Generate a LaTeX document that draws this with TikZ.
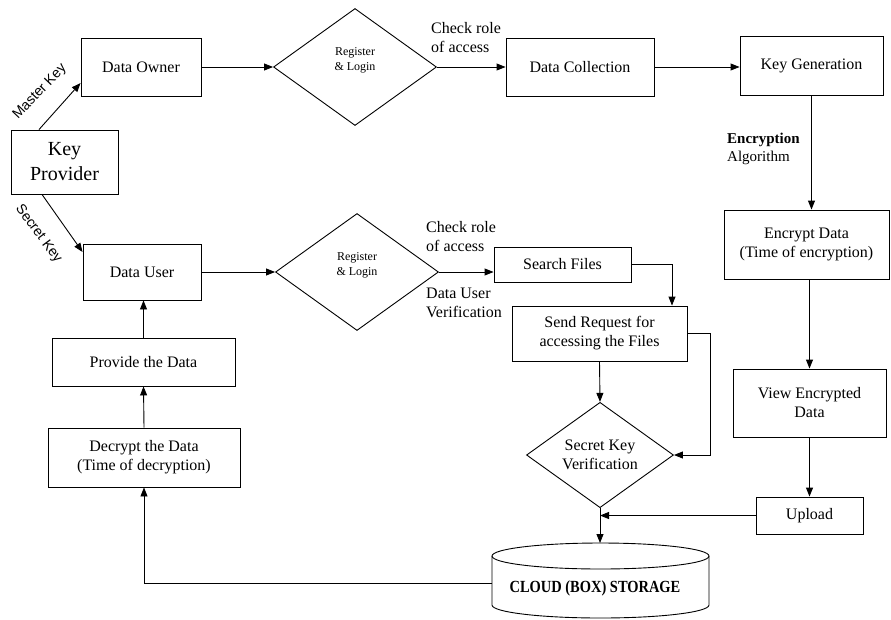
\documentclass[tikz,border=0pt]{standalone}
\usepackage{fontspec}
\setmainfont{Liberation Serif}
\newfontfamily\sansf{Liberation Sans}
\usetikzlibrary{shapes.geometric,arrows.meta,calc}
\tikzset{
  box/.style={draw, line width=0.9pt, inner sep=2pt, align=center, font=\fontsize{16}{19}\selectfont},
  dia/.style={draw, diamond, line width=0.9pt, inner sep=0pt, align=center, font=\fontsize{16}{19}\selectfont},
  smalltxt/.style={inner sep=0pt, align=center, font=\fontsize{12}{15}\selectfont},
  arr/.style={line width=0.9pt, -{Triangle[length=9pt,width=7pt]}},
  lbl/.style={align=left, anchor=west, inner sep=0pt, font=\fontsize{16}{19}\selectfont},
  keylbl/.style={inner sep=0pt, font=\sansf\fontsize{14}{16}\selectfont},
  cylline/.style={line width=0.9pt}
}
\begin{document}
\begin{tikzpicture}[x=1pt,y=-1pt]
\useasboundingbox (0,0) rectangle (891,619);

% left column
\node[box, minimum width=107pt, minimum height=64pt, font=\fontsize{20}{25}\selectfont] (KP) at (64.5,162) {Key\\Provider};
\node[box, minimum width=120pt, minimum height=58pt] (DO) at (141,67) {Data Owner};
\node[box, minimum width=118pt, minimum height=56pt] (DU) at (142,272) {Data User};
\node[box, minimum width=183pt, minimum height=48pt] (PD) at (143.5,362) {Provide the Data};
\node[box, minimum width=192pt, minimum height=59pt] (DEC) at (144,457.5) {Decrypt the Data\\(Time of decryption)};

% diamonds register/login
\node[dia, minimum width=163pt, minimum height=117pt] (D1) at (355,67) {};
\node[smalltxt] (D1t) at (355,60.5) {Register\\\& Login};
\node[dia, minimum width=163pt, minimum height=117pt] (D2) at (357,272) {};
\node[smalltxt] (D2t) at (357,265.5) {Register\\\& Login};

% top row
\node[box, minimum width=148pt, minimum height=58pt] (DC) at (580,67) {Data Collection};
\node[box, minimum width=143pt, minimum height=59pt] (KG) at (811.5,65.5) {Key Generation};

% right column
\node[box, minimum width=165pt, minimum height=69pt] (ED) at (806.5,244.5) {Encrypt Data\\(Time of encryption)};
\node[box, minimum width=153pt, minimum height=68pt] (VED) at (809.5,403) {View Encrypted\\Data};
\node[box, minimum width=107pt, minimum height=37pt] (UP) at (809.5,515.5) {Upload};

% middle
\node[box, minimum width=137pt, minimum height=35pt] (SF) at (562.5,264.5) {Search Files};
\node[box, minimum width=175pt, minimum height=55pt] (SR) at (599.5,333.5) {Send Request for\\accessing the Files};
\node[dia, minimum width=147pt, minimum height=100pt] (SKV) at (600,455) {Secret Key\\Verification};

% cylinder
\draw[cylline] (492,556) -- (492,605) arc[start angle=180,end angle=360,x radius=108.5pt,y radius=13pt] -- (709,556);
\draw[cylline] (600.5,556) ellipse[x radius=108.5pt,y radius=13pt];
\node[inner sep=0pt, font=\bfseries\fontsize{17}{19}\selectfont] (CS) at (595,588) {\scalebox{0.85}[1]{CLOUD (BOX) STORAGE}};
\coordinate (cyltop) at (600,543);
\coordinate (cylw) at (492,583);

% labels
\node[keylbl, rotate=46.5] (mk) at (40,92) {Master Key};
\node[keylbl, rotate=-53.5] (sk) at (38.5,234) {Secret Key};
\node[lbl] (cr1) at (431,37.5) {Check role\\of access};
\node[lbl] (cr2) at (426,236.5) {Check role\\of access};
\node[lbl] (duv) at (426,302.5) {Data User\\Verification};
\node[lbl, font=\fontsize{15}{18}\selectfont] (enc) at (727,149) {\textbf{Encryption}\\Algorithm};

% connectors
\draw[arr] ([xshift=-25.5pt]KP.north) -- ([yshift=-16pt]DO.west);
\draw[arr] ([xshift=-22.5pt]KP.south) -- ([yshift=20pt]DU.west);
\draw[arr] (DO.east) -- (D1.west);
\draw[arr] (D1.east) -- (DC.west);
\draw[arr] (DC.east) -- (DC.east -| KG.west);
\draw[arr] (KG.south) -- (KG.south |- ED.north);
\draw[arr] (VED.north |- ED.south) -- (VED.north);
\draw[arr] (VED.south) -- (UP.north);
\draw[arr] (UP.west) -- (UP.west -| SKV.south);
\draw[arr] (SKV.south) -- (cyltop);
\draw[arr] (DU.east) -- (D2.west);
\draw[arr] (D2.east) -- (D2.east -| SF.west);
\draw[arr] (SF.east) -| ([xshift=72.5pt]SR.north);
\draw[arr] (SR.south) -- (SKV.north);
\draw[arr] (SR.east) -- ++(23,0) |- (SKV.east);
\draw[arr] (cylw) -| (DEC.south);
\draw[arr] (DEC.north) -- (PD.south);
\draw[arr] (PD.north) -- (PD.north |- DU.south);
\end{tikzpicture}
\end{document}
